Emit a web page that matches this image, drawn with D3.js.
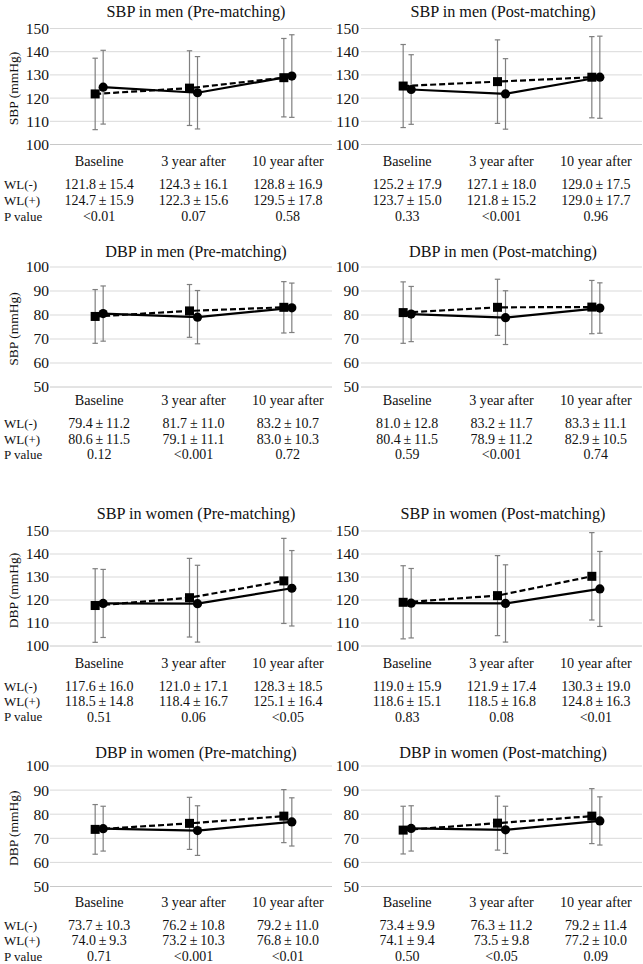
<!DOCTYPE html>
<html><head><meta charset="utf-8">
<script src="https://cdn.jsdelivr.net/npm/d3@7"></script>
<style>
body{margin:0;background:#fff;}
svg{display:block;}
text{font-family:"Liberation Serif","Times New Roman",Times,"Nimbus Roman","Tinos","DejaVu Serif",serif;fill:#111;}
</style></head>
<body><svg id="c" width="643" height="964"></svg>
<script>
// ---------- data ----------
const categories = ["Baseline", "3 year after", "10 year after"];
const rowLabels = ["WL(-)", "WL(+)", "P value"];
const seriesNames = ["WL(-)", "WL(+)"];

const titles = [
  "SBP in men (Pre-matching)", "SBP in men (Post-matching)",
  "DBP in men (Pre-matching)", "DBP in men (Post-matching)",
  "SBP in women (Pre-matching)", "SBP in women (Post-matching)",
  "DBP in women (Pre-matching)", "DBP in women (Post-matching)"
];
const yTitles = ["SBP (mmHg)", "SBP (mmHg)", "DBP (mmHg)", "DBP (mmHg)"];
const yTicksSBP = [100, 110, 120, 130, 140, 150];
const yTicksDBP = [50, 60, 70, 80, 90, 100];

// mean values per panel: WL(-) and WL(+)
const meanNeg = [
  [121.8, 124.3, 128.8], [125.2, 127.1, 129.0],
  [79.4, 81.7, 83.2],    [81.0, 83.2, 83.3],
  [117.6, 121.0, 128.3], [119.0, 121.9, 130.3],
  [73.7, 76.2, 79.2],    [73.4, 76.3, 79.2]
];
const sdNeg = [
  [15.4, 16.1, 16.9], [17.9, 18.0, 17.5],
  [11.2, 11.0, 10.7], [12.8, 11.7, 11.1],
  [16.0, 17.1, 18.5], [15.9, 17.4, 19.0],
  [10.3, 10.8, 11.0], [9.9, 11.2, 11.4]
];
const meanPos = [
  [124.7, 122.3, 129.5], [123.7, 121.8, 129.0],
  [80.6, 79.1, 83.0],    [80.4, 78.9, 82.9],
  [118.5, 118.4, 125.1], [118.6, 118.5, 124.8],
  [74.0, 73.2, 76.8],    [74.1, 73.5, 77.2]
];
const sdPos = [
  [15.9, 15.6, 17.8], [15.0, 15.2, 17.7],
  [11.5, 11.1, 10.3], [11.5, 11.2, 10.5],
  [14.8, 16.7, 16.4], [15.1, 16.8, 16.3],
  [9.3, 10.3, 10.0],  [9.4, 9.8, 10.0]
];
const pValues = [
  ["<0.01", "0.07", "0.58"], ["0.33", "<0.001", "0.96"],
  ["0.12", "<0.001", "0.72"], ["0.59", "<0.001", "0.74"],
  ["0.51", "0.06", "<0.05"], ["0.83", "0.08", "<0.01"],
  ["0.71", "<0.001", "<0.01"], ["0.50", "<0.05", "0.09"]
];

// ---------- layout ----------
const FONT = '"Liberation Serif","Times New Roman",Times,"Nimbus Roman","Tinos","DejaVu Serif",serif';
const rows = [
  {top: 28.5, bottom: 144.5, title: 11.5, cat: 161, t: [184, 200.3, 216], sbp: true},
  {top: 267, bottom: 387, title: 251, cat: 400, t: [423, 439, 454.5], sbp: false},
  {top: 531, bottom: 646, title: 513.3, cat: 662.7, t: [686, 701.5, 716.7], sbp: true},
  {top: 766, bottom: 886.5, title: 752.7, cat: 901.7, t: [925, 940.5, 956], sbp: false}
];
const cols = [
  {x0: 52, x1: 335, g0: 50, g1: 332, tick: 49, titleX: 196},
  {x0: 360, x1: 643, g0: 361, g1: 642, tick: 359, titleX: 503}
];
const OFF = 4;

const svg = d3.select("#c");

rows.forEach((r, ri) => {
  cols.forEach((c, ci) => {
    const pi = ri * 2 + ci;
    const g = svg.append("g").attr("font-family", FONT);
    const ticks = r.sbp ? yTicksSBP : yTicksDBP;
    const y = d3.scaleLinear().domain([ticks[0], ticks[ticks.length - 1]]).range([r.bottom, r.top]);
    const x = d3.scalePoint().domain(categories).range([c.x0, c.x1]).padding(0.5);

    // gridlines
    g.selectAll("line.grid").data(ticks).join("line")
      .attr("x1", c.g0).attr("x2", c.g1)
      .attr("y1", d => y(d)).attr("y2", d => y(d))
      .attr("stroke", (d, i) => i === 0 ? "#c8c8c8" : "#d9d9d9")
      .attr("stroke-width", 1);

    // y axis labels
    const ax = d3.axisLeft(y).tickValues(ticks).tickSize(0).tickPadding(0);
    const axg = g.append("g").attr("transform", `translate(${c.tick},0)`).call(ax);
    axg.attr("font-family", FONT);
    axg.select(".domain").remove();
    axg.selectAll("text").attr("font-size", 15.5).attr("fill", "#111");

    // title
    g.append("text").attr("x", c.titleX).attr("y", r.title).attr("dy", "0.35em")
      .attr("text-anchor", "middle").attr("font-size", 16.2).text(titles[pi]);

    // y title (left column only)
    if (ci === 0) {
      g.append("text")
        .attr("transform", `translate(13,${(r.top + r.bottom) / 2 + 2}) rotate(-90)`)
        .attr("dy", "0.35em").attr("text-anchor", "middle").attr("font-size", 13.5)
        .text(yTitles[ri]);
    }

    // category labels
    g.selectAll("text.cat").data(categories).join("text")
      .attr("x", d => x(d)).attr("y", r.cat).attr("dy", "0.35em")
      .attr("text-anchor", "middle").attr("font-size", 14.2).text(d => d);

    // table
    const fmt = (m, s) => m.toFixed(1) + "\u2009±\u2009" + s.toFixed(1);
    const tableRows = [
      meanNeg[pi].map((m, i) => fmt(m, sdNeg[pi][i])),
      meanPos[pi].map((m, i) => fmt(m, sdPos[pi][i])),
      pValues[pi]
    ];
    tableRows.forEach((vals, k) => {
      g.selectAll("text.tv" + k).data(vals).join("text")
        .attr("x", (d, i) => x(categories[i])).attr("y", r.t[k]).attr("dy", "0.35em")
        .attr("text-anchor", "middle").attr("font-size", 14).text(d => d);
      if (ci === 0) {
        g.append("text").attr("x", 4).attr("y", r.t[k]).attr("dy", "0.35em")
          .attr("font-size", 13).text(rowLabels[k]);
      }
    });

    // series
    const series = [
      {name: seriesNames[0], m: meanNeg[pi], s: sdNeg[pi], off: -OFF, dash: "6,3", marker: "square"},
      {name: seriesNames[1], m: meanPos[pi], s: sdPos[pi], off: OFF, dash: null, marker: "circle"}
    ];
    series.forEach(se => {
      const pts = categories.map((cat, i) => ({x: x(cat) + se.off, m: se.m[i], s: se.s[i]}));
      const eb = g.append("g").attr("stroke", "#7f7f7f").attr("stroke-width", 1.2).attr("fill", "none");
      pts.forEach(p => {
        eb.append("line").attr("x1", p.x).attr("x2", p.x).attr("y1", y(p.m - p.s)).attr("y2", y(p.m + p.s));
        eb.append("line").attr("x1", p.x - 2.7).attr("x2", p.x + 2.7).attr("y1", y(p.m - p.s)).attr("y2", y(p.m - p.s));
        eb.append("line").attr("x1", p.x - 2.7).attr("x2", p.x + 2.7).attr("y1", y(p.m + p.s)).attr("y2", y(p.m + p.s));
      });
      se.pts = pts;
    });
    series.forEach(se => {
      const line = d3.line().x(d => d.x).y(d => y(d.m));
      g.append("path").datum(se.pts).attr("d", line).attr("fill", "none")
        .attr("stroke", "#000").attr("stroke-width", 2.2)
        .attr("stroke-dasharray", se.dash);
    });
    series.forEach(se => {
      if (se.marker === "square") {
        g.selectAll(null).data(se.pts).join("rect")
          .attr("x", d => d.x - 4.5).attr("y", d => y(d.m) - 4.5)
          .attr("width", 9).attr("height", 9).attr("fill", "#000");
      } else {
        g.selectAll(null).data(se.pts).join("circle")
          .attr("cx", d => d.x).attr("cy", d => y(d.m)).attr("r", 4.6).attr("fill", "#000");
      }
    });
  });
});
</script></body></html>
